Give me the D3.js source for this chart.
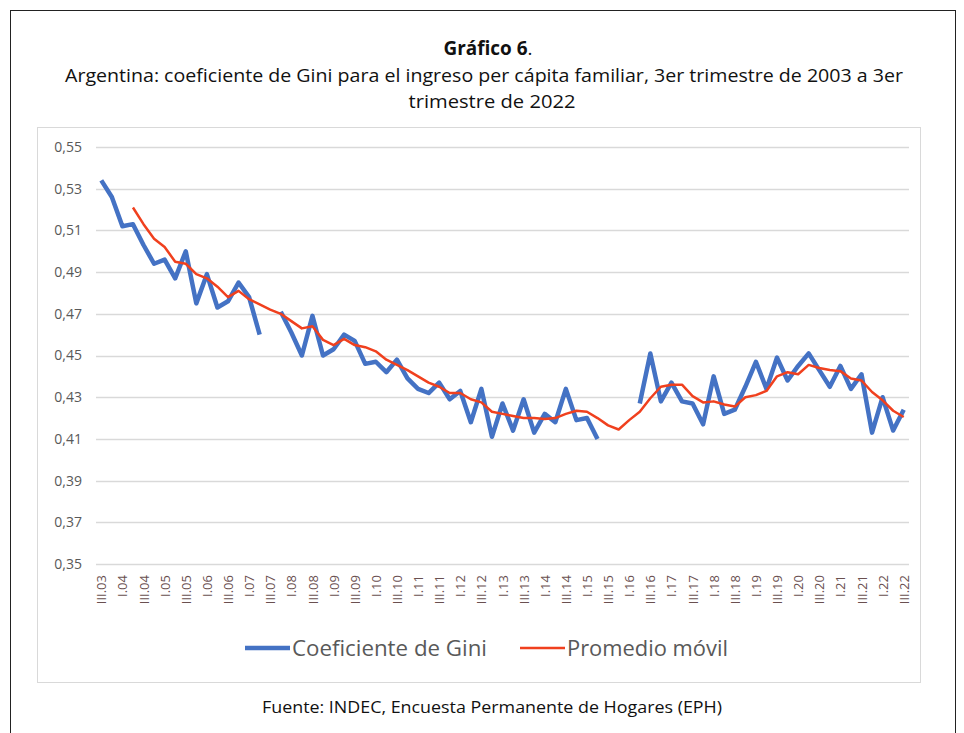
<!DOCTYPE html>
<html>
<head>
<meta charset="utf-8">
<script src="https://cdn.jsdelivr.net/npm/d3@7/dist/d3.min.js"></script>
<style>
  body { margin: 0; background: #fff; }
  svg { display: block; }
  text { font-family: "Open Sans", "DejaVu Sans", sans-serif; }
</style>
</head>
<body>
<div id="chart"></div>
<script>
// trimestres III.03 .. III.22
var quarters = [
  "III.03","IV.03",
  "I.04","II.04","III.04","IV.04","I.05","II.05","III.05","IV.05",
  "I.06","II.06","III.06","IV.06","I.07","II.07","III.07","IV.07",
  "I.08","II.08","III.08","IV.08","I.09","II.09","III.09","IV.09",
  "I.10","II.10","III.10","IV.10","I.11","II.11","III.11","IV.11",
  "I.12","II.12","III.12","IV.12","I.13","II.13","III.13","IV.13",
  "I.14","II.14","III.14","IV.14","I.15","II.15","III.15","IV.15",
  "I.16","II.16","III.16","IV.16","I.17","II.17","III.17","IV.17",
  "I.18","II.18","III.18","IV.18","I.19","II.19","III.19","IV.19",
  "I.20","II.20","III.20","IV.20","I.21","II.21","III.21","IV.21",
  "I.22","II.22","III.22"
];

var tickLabels = [
  "III.03","I.04","III.04","I.05","III.05","I.06","III.06","I.07","III.07","I.08",
  "III.08","I.09","III.09","I.10","III.10","I.11","III.11","I.12","III.12","I.13",
  "III.13","I.14","III.14","I.15","III.15","I.16","III.16","I.17","III.17","I.18",
  "III.18","I.19","III.19","I.20","III.20","I.21","III.21","I.22","III.22"
];

var gini = [
  0.534,0.526,
  0.512,0.513,0.503,0.494,0.496,0.487,0.500,0.475,
  0.489,0.473,0.476,0.485,0.478,0.460,null,0.471,
  0.461,0.450,0.469,0.450,0.453,0.460,0.457,0.446,
  0.447,0.442,0.448,0.439,0.434,0.432,0.437,0.429,
  0.433,0.418,0.434,0.411,0.427,0.414,0.429,0.413,
  0.422,0.418,0.434,0.419,0.420,0.410,null,null,
  null,0.427,0.451,0.428,0.437,0.428,0.427,0.417,
  0.440,0.422,0.424,0.435,0.447,0.434,0.449,0.438,
  0.445,0.451,0.443,0.435,0.445,0.434,0.441,0.413,
  0.430,0.414,0.424
];

var movil = [
  null,null,
  null,0.521,0.513,0.506,0.502,0.495,0.494,0.489,
  0.487,0.483,0.478,0.481,0.477,0.4745,0.472,0.470,
  0.4665,0.463,0.464,0.4575,0.455,0.458,0.455,0.454,
  0.452,0.448,0.4455,0.443,0.440,0.437,0.435,0.432,
  0.432,0.429,0.4275,0.423,0.422,0.421,0.420,0.420,
  0.4195,0.420,0.422,0.4235,0.423,0.420,0.4165,0.4145,
  0.419,0.423,0.4295,0.435,0.436,0.436,0.4305,0.4275,
  0.428,0.4265,0.4255,0.430,0.431,0.433,0.440,0.442,
  0.441,0.4455,0.444,0.443,0.4425,0.439,0.438,0.4325,
  0.4285,0.4235,0.4205
];

var yTicks = [0.35,0.37,0.39,0.41,0.43,0.45,0.47,0.49,0.51,0.53,0.55];
var seriesNames = ["Coeficiente de Gini", "Promedio móvil"];

var width = 964, height = 733;
var svg = d3.select("#chart").append("svg")
    .attr("width", width).attr("height", height);

// marco exterior
svg.append("rect")
    .attr("x", 10.5).attr("y", 10.5)
    .attr("width", 945).attr("height", 760)
    .attr("fill", "none").attr("stroke", "#222").attr("stroke-width", 1);

// caja del grafico
svg.append("rect")
    .attr("x", 37.5).attr("y", 127.5)
    .attr("width", 883).attr("height", 555)
    .attr("fill", "#fff").attr("stroke", "#d9d9d9").attr("stroke-width", 1);

// titulos
var t1 = svg.append("text")
    .attr("x", 488).attr("y", 55)
    .attr("text-anchor", "middle")
    .attr("font-size", "19px").attr("fill", "#111")
    .attr("textLength", 89).attr("lengthAdjust", "spacingAndGlyphs");
t1.append("tspan").attr("font-weight", "bold").text("Gráfico 6");
t1.append("tspan").text(".");

svg.append("text")
    .attr("x", 484).attr("y", 82)
    .attr("text-anchor", "middle")
    .attr("font-size", "19px").attr("fill", "#111")
    .attr("textLength", 838).attr("lengthAdjust", "spacingAndGlyphs")
    .text("Argentina: coeficiente de Gini para el ingreso per cápita familiar, 3er trimestre de 2003 a 3er");

svg.append("text")
    .attr("x", 492).attr("y", 108)
    .attr("text-anchor", "middle")
    .attr("font-size", "19px").attr("fill", "#111")
    .attr("textLength", 167).attr("lengthAdjust", "spacingAndGlyphs")
    .text("trimestre de 2022");

// escalas
var x = d3.scalePoint().domain(quarters).range([96, 909]).padding(0.5);
var y = d3.scaleLinear().domain([0.35, 0.55]).range([564, 147]);

var fmt = d3.formatLocale({decimal: ",", thousands: ".", grouping: [3], currency: ["$", ""]}).format(".2f");

// grilla
svg.append("g").selectAll("line")
    .data(yTicks).enter().append("line")
    .attr("x1", 96).attr("x2", 909)
    .attr("y1", function(d){ return Math.round(y(d)) + 0.5; })
    .attr("y2", function(d){ return Math.round(y(d)) + 0.5; })
    .attr("stroke", "#d9d9d9").attr("stroke-width", 1.3);

// eje Y
var yAxis = svg.append("g")
    .attr("transform", "translate(90,0)")
    .call(d3.axisLeft(y).tickValues(yTicks).tickFormat(fmt).tickSize(0).tickPadding(8));
yAxis.select(".domain").remove();
yAxis.selectAll("text")
    .attr("font-family", "'Open Sans', sans-serif")
    .attr("font-size", "14px").attr("fill", "#595959");

// eje X
var xAxis = svg.append("g")
    .attr("transform", "translate(0,564)")
    .call(d3.axisBottom(x).tickValues(tickLabels).tickSize(0));
xAxis.select(".domain").remove();
xAxis.selectAll("text")
    .attr("font-family", "'Open Sans', sans-serif")
    .attr("font-size", "13px").attr("fill", "#6a5050")
    .attr("text-anchor", "end")
    .attr("dy", "0.35em")
    .attr("transform", "translate(0,11) rotate(-90)")
    .attr("x", 0).attr("y", 0);

// lineas
var line = d3.line()
    .defined(function(d){ return d != null; })
    .x(function(d, i){ return x(quarters[i]); })
    .y(function(d){ return y(d); });

svg.append("path")
    .datum(gini)
    .attr("d", line)
    .attr("fill", "none")
    .attr("stroke", "#4472c4")
    .attr("stroke-width", 4.5)
    .attr("stroke-linejoin", "round");

svg.append("path")
    .datum(movil)
    .attr("d", line)
    .attr("fill", "none")
    .attr("stroke", "#f0401e")
    .attr("stroke-width", 2.5)
    .attr("stroke-linejoin", "round");

// leyenda
var legend = [
  {name: seriesNames[0], color: "#4472c4", w: 4.5, x0: 245, tl: 195},
  {name: seriesNames[1], color: "#f0401e", w: 2.5, x0: 520, tl: 161}
];
var lg = svg.append("g").selectAll("g").data(legend).enter().append("g");
lg.append("line")
    .attr("x1", function(d){ return d.x0; })
    .attr("x2", function(d){ return d.x0 + 45; })
    .attr("y1", 648).attr("y2", 648)
    .attr("stroke", function(d){ return d.color; })
    .attr("stroke-width", function(d){ return d.w; });
lg.append("text")
    .attr("x", function(d){ return d.x0 + 47; })
    .attr("y", 656)
    .attr("font-size", "21px").attr("fill", "#595959")
    .attr("textLength", function(d){ return d.tl; })
    .attr("lengthAdjust", "spacingAndGlyphs")
    .text(function(d){ return d.name; });

// fuente
svg.append("text")
    .attr("x", 492).attr("y", 713)
    .attr("text-anchor", "middle")
    .attr("font-size", "16px").attr("fill", "#111")
    .attr("textLength", 460).attr("lengthAdjust", "spacingAndGlyphs")
    .text("Fuente: INDEC, Encuesta Permanente de Hogares (EPH)");
</script>
</body>
</html>
